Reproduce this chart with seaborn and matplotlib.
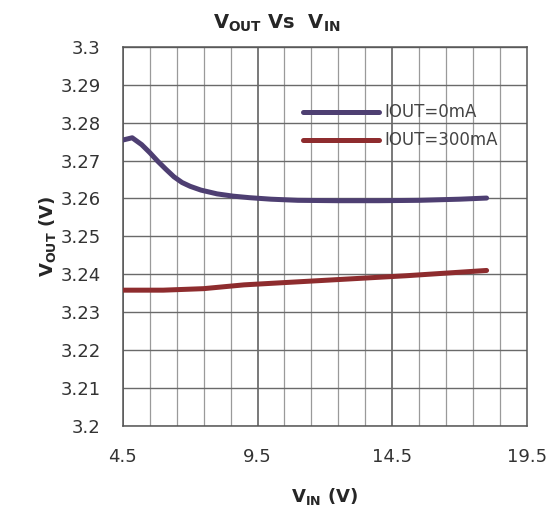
import pandas as pd
import seaborn as sns
import matplotlib.pyplot as plt

# Data
vin_0ma = [4.5, 4.85, 5.2, 5.5, 5.8, 6.1, 6.4, 6.7, 7.0, 7.4, 8.0, 8.6, 9.2, 10.0, 11.0, 12.5, 14.0, 15.5, 17.0, 18.0]
vout_0ma = [3.2754, 3.2760, 3.2742, 3.2721, 3.2698, 3.2677, 3.2657, 3.2642, 3.2632, 3.2622, 3.2612,
            3.2606, 3.2602, 3.2598, 3.2595, 3.2594, 3.2594, 3.2595, 3.2598, 3.2601]
vin_300ma = [4.5, 6.0, 7.5, 9.0, 10.5, 12.0, 13.5, 15.0, 16.5, 18.0]
vout_300ma = [3.2358, 3.2358, 3.2362, 3.2372, 3.2378, 3.2384, 3.2390, 3.2396, 3.2403, 3.2410]
labels = ['IOUT=0mA', 'IOUT=300mA']
colors = ['#4e3f72', '#8e2c2e']
x_ticks = [4.5, 9.5, 14.5, 19.5]
y_ticks = [3.2, 3.21, 3.22, 3.23, 3.24, 3.25, 3.26, 3.27, 3.28, 3.29, 3.3]

df = pd.concat([
    pd.DataFrame({'vin': vin_0ma, 'vout': vout_0ma, 'load': labels[0]}),
    pd.DataFrame({'vin': vin_300ma, 'vout': vout_300ma, 'load': labels[1]}),
])

sns.set_style('white')
plt.rcParams['font.family'] = ['DejaVu Sans']
plt.rcParams['mathtext.fontset'] = 'dejavusans'

fig = plt.figure(figsize=(5.53, 5.20), dpi=100)
ax = fig.add_axes([0.222, 0.181, 0.731, 0.729])

# grid: thin verticals every 1 V, heavier ones at the labelled ticks
for v in range(5, 20):
    xv = v - 0.5
    ax.axvline(xv, color='#555555' if xv in x_ticks else '#9a9a9a',
               lw=1.1 if xv in x_ticks else 0.9, zorder=0)
for yv in y_ticks:
    ax.axhline(yv, color='#6a6a6a', lw=1.0, zorder=0)

sns.lineplot(data=df, x='vin', y='vout', hue='load', palette=colors, lw=3.6,
             ax=ax, legend=False, zorder=3)

ax.set_xlim(4.5, 19.5)
ax.set_ylim(3.2, 3.3)
ax.set_xticks(x_ticks)
ax.set_xticklabels(['4.5', '9.5', '14.5', '19.5'])
ax.set_yticks(y_ticks)
ax.set_yticklabels(['3.2', '3.21', '3.22', '3.23', '3.24', '3.25', '3.26', '3.27', '3.28', '3.29', '3.3'])
ax.tick_params(length=0, labelsize=13, colors='#333333')
ax.tick_params(axis='x', pad=16)
ax.tick_params(axis='y', pad=16)
for s in ax.spines.values():
    s.set_color('#555555')
    s.set_linewidth(1.1)

ax.set_xlabel(r'$\mathbf{V_{IN}}$ (V)', fontsize=13, fontweight='bold', labelpad=14)
ax.set_ylabel(r'$\mathbf{V_{OUT}}$ (V)', fontsize=13, fontweight='bold', labelpad=2)
fig.suptitle(r'$\mathbf{V_{OUT}}$ Vs  $\mathbf{V_{IN}}$', fontsize=14, fontweight='bold', x=0.5, y=0.975)

handles = [plt.Line2D([], [], color=c, lw=3.6) for c in colors]
ax.legend(handles, labels, loc='upper right', bbox_to_anchor=(0.965, 0.89), frameon=False,
          fontsize=12, handlelength=4.6, handletextpad=0.3, labelspacing=0.6,
          labelcolor='#444444')

fig.savefig('out.png', dpi=100)
